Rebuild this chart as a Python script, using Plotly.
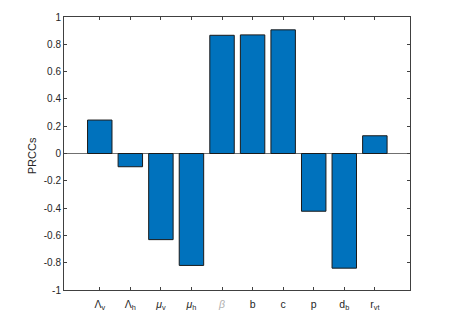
import plotly.graph_objects as go

positions = [1, 2, 3, 4, 5, 6, 7, 8, 9, 10]
tick_labels = [
    "Λ<sub>v</sub>", "Λ<sub>h</sub>", "<i>μ</i><sub>v</sub>", "<i>μ</i><sub>h</sub>",
    "<span style='color:#b0b0b0'><i>β</i></span>", "b", "c", "p", "d<sub>b</sub>", "r<sub>vt</sub>",
]
prcc = [0.245, -0.097, -0.631, -0.820, 0.866, 0.869, 0.906, -0.423, -0.840, 0.130]
y_ticks = [-1, -0.8, -0.6, -0.4, -0.2, 0, 0.2, 0.4, 0.6, 0.8, 1]
y_tick_text = ["-1", "-0.8", "-0.6", "-0.4", "-0.2", "0", "0.2", "0.4", "0.6", "0.8", "1"]
y_title = "PRCCs"

axis_color = "#404040"
font = dict(family="Liberation Sans, Arial, sans-serif", size=10, color="#262626")

fig = go.Figure(
    go.Bar(
        x=positions,
        y=prcc,
        width=0.8,
        marker=dict(color="#0072BD", line=dict(color="#1a1a1a", width=1)),
    )
)

fig.update_layout(
    width=445,
    height=314,
    margin=dict(l=56, r=43, t=9, b=32),
    paper_bgcolor="white",
    plot_bgcolor="white",
    font=font,
    showlegend=False,
    xaxis=dict(
        range=[-0.17, 11.15],
        tickmode="array",
        tickvals=positions,
        ticktext=tick_labels,
        ticks="inside",
        ticklen=3,
        tickcolor=axis_color,
        ticklabelstandoff=4,
        tickfont=dict(size=10.5),
        showline=True,
        linecolor=axis_color,
        linewidth=1,
        mirror="ticks",
        showgrid=False,
        zeroline=False,
        automargin=False,
    ),
    yaxis=dict(
        range=[-1, 1],
        tickmode="array",
        tickvals=y_ticks,
        ticktext=y_tick_text,
        ticks="inside",
        ticklen=3,
        tickcolor=axis_color,
        showline=True,
        linecolor=axis_color,
        linewidth=1,
        mirror="ticks",
        showgrid=False,
        zeroline=True,
        zerolinecolor="#707070",
        zerolinewidth=1,
        automargin=False,
    ),
    annotations=[
        dict(
            text=y_title,
            xref="paper",
            yref="paper",
            x=-32 / 346,
            y=0.49,
            xanchor="center",
            yanchor="middle",
            textangle=-90,
            showarrow=False,
            font=dict(size=11, color="#262626"),
        )
    ],
)

fig.write_html("out.html")
